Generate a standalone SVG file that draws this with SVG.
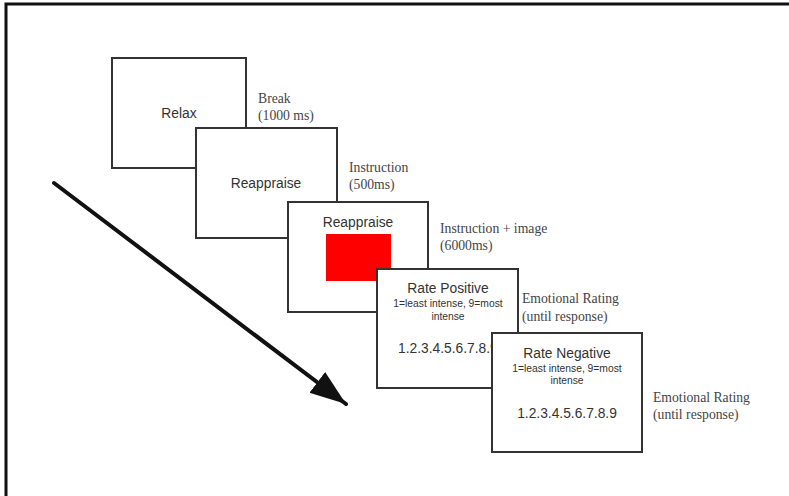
<svg xmlns="http://www.w3.org/2000/svg" width="789" height="496" viewBox="0 0 789 496">
  <defs>
    <style>
      .box { fill: #ffffff; stroke: #333333; stroke-width: 2; }
      .t { font-family: "Liberation Sans", Arial, sans-serif; fill: #333333; text-anchor: middle; }
      .big { font-size: 13.8px; }
      .small { font-size: 10.3px; }
      .lbl { font-family: "Liberation Serif", "Times New Roman", serif; font-size: 13.7px; fill: #444444; }
    </style>
    <marker id="head" markerUnits="userSpaceOnUse" markerWidth="40" markerHeight="30" refX="36" refY="13" orient="auto" viewBox="0 0 40 26">
      <path d="M0,0 L36,13 L0,26 Z" fill="#111111"/>
    </marker>
  </defs>

  <rect x="0" y="0" width="789" height="496" fill="#ffffff"/>
  <rect id="frame" x="6" y="4" width="800" height="520" fill="none" stroke="#111111" stroke-width="3"/>

  <g id="connectors">
    <line x1="54" y1="183" x2="346" y2="404" stroke="#111111" stroke-width="4" stroke-linecap="round" marker-end="url(#head)"/>
  </g>

  <g id="node-relax">
    <rect class="box" x="112" y="58" width="134" height="110"/>
    <text class="t big" x="179" y="118">Relax</text>
    <text class="lbl" x="258" y="103">Break</text>
    <text class="lbl" x="258" y="120">(1000 ms)</text>
  </g>

  <g id="node-instruction">
    <rect class="box" x="196" y="128" width="141" height="110"/>
    <text class="t big" x="266" y="188">Reappraise</text>
    <text class="lbl" x="349" y="172">Instruction</text>
    <text class="lbl" x="349" y="189">(500ms)</text>
  </g>

  <g id="node-image">
    <rect class="box" x="288" y="202" width="140" height="110"/>
    <text class="t big" x="358" y="227">Reappraise</text>
    <rect x="326" y="234" width="65" height="47" fill="#ff0000"/>
    <text class="lbl" x="440" y="233">Instruction + image</text>
    <text class="lbl" x="440" y="250">(6000ms)</text>
  </g>

  <g id="node-rate-positive">
    <rect class="box" x="377" y="269" width="141" height="119"/>
    <text class="t big" x="448" y="293">Rate Positive</text>
    <text class="t small" x="448" y="307">1=least intense, 9=most</text>
    <text class="t small" x="448" y="320">intense</text>
    <text class="t big" x="398" y="353" style="text-anchor:start">1.2.3.4.5.6.7.8.9</text>
    <text class="lbl" x="522" y="303">Emotional Rating</text>
    <text class="lbl" x="522" y="321">(until response)</text>
  </g>

  <g id="node-rate-negative">
    <rect class="box" x="492" y="333" width="150" height="119"/>
    <text class="t big" x="567" y="358">Rate Negative</text>
    <text class="t small" x="567" y="372">1=least intense, 9=most</text>
    <text class="t small" x="567" y="384">intense</text>
    <text class="t big" x="567" y="418">1.2.3.4.5.6.7.8.9</text>
    <text class="lbl" x="653" y="402">Emotional Rating</text>
    <text class="lbl" x="653" y="419">(until response)</text>
  </g>
</svg>
